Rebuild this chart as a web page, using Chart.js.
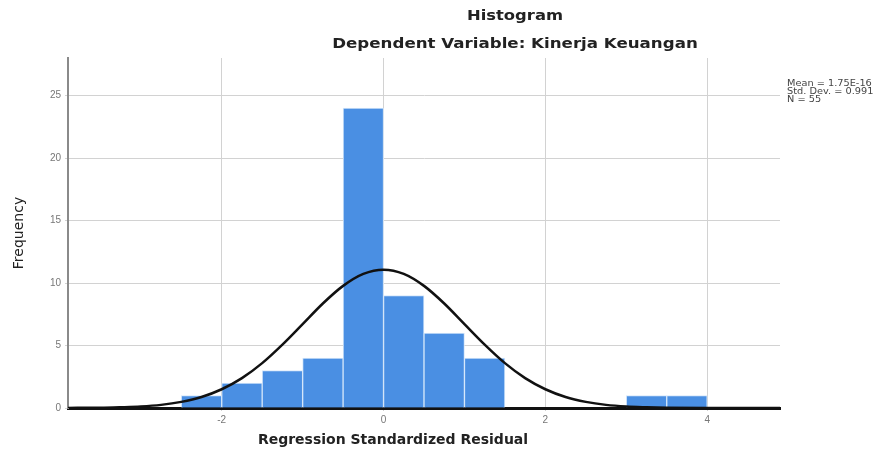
<!DOCTYPE html>
<html lang="id">
<head>
    <meta charset="UTF-8">
    <title>Histogram</title>
    <script src="https://cdn.jsdelivr.net/npm/chart.js"></script>
    <style>
        html, body { margin: 0; padding: 0; background: #fff; }
        #wrap { width: 891px; height: 455px; }
    </style>
</head>
<body>
<div id="wrap"><canvas id="grafik"></canvas></div>
<script>
    // data histogram
    const binCenters = [-2.25, -1.75, -1.25, -0.75, -0.25, 0.25, 0.75, 1.25, 3.25, 3.75];
    const frequencies = [1, 2, 3, 4, 24, 9, 6, 4, 1, 1];

    // kurva normal (titik)
    const curveX = [-3.9, -3.5, -3.25, -3, -2.75, -2.5, -2.25, -2, -1.75, -1.5, -1.25, -1, -0.75, -0.5, -0.25, 0,
                    0.25, 0.5, 0.75, 1, 1.25, 1.5, 1.75, 2, 2.25, 2.5, 2.75, 3, 3.25, 3.5, 4, 4.5, 4.9];
    const curveY = [0.01, 0.02, 0.06, 0.12, 0.25, 0.49, 0.88, 1.50, 2.39, 3.59, 5.07, 6.71, 8.36, 9.77, 10.73, 11.07,
                    10.73, 9.77, 8.36, 6.71, 5.07, 3.59, 2.39, 1.50, 0.88, 0.49, 0.25, 0.12, 0.06, 0.02, 0, 0, 0];

    const xTicks = [-2, 0, 2, 4];
    const yTicks = [0, 5, 10, 15, 20, 25];

    const judul = "Histogram";
    const subjudul = "Dependent Variable: Kinerja Keuangan";
    const judulX = "Regression Standardized Residual";
    const judulY = "Frequency";
    const statistik = ["Mean = 1.75E-16", "Std. Dev. = 0.991", "N = 55"];

    // teks ditarik sedikit melebar seperti gambar asli
    function teksLebar(c, teks, x, y, sx) {
        c.save();
        c.translate(x, y);
        c.scale(sx, 1);
        c.fillText(teks, 0, 0);
        c.restore();
    }

    // teks judul, label sumbu dan kotak statistik
    const teksPlugin = {
        id: "teks",
        afterDraw(chart) {
            const c = chart.ctx;
            c.save();
            c.fillStyle = "#222";
            c.textAlign = "center";
            c.textBaseline = "middle";
            c.font = "bold 14px 'DejaVu Sans'";
            teksLebar(c, judul, 515, 16, 1.17);
            teksLebar(c, subjudul, 515, 44, 1.19);
            c.fillText(judulX, 393, 440);

            c.font = "14px 'DejaVu Sans'";
            c.translate(19, 233);
            c.rotate(-Math.PI / 2);
            c.fillText(judulY, 0, 0);
            c.restore();

            c.save();
            c.fillStyle = "#444";
            c.font = "8px 'DejaVu Sans'";
            c.textBaseline = "top";
            statistik.forEach((t, i) => teksLebar(c, t, 787, 80 + i * 8, 1.22));
            c.restore();
        }
    };

    const ctx = document.getElementById("grafik").getContext("2d");
    new Chart(ctx, {
        data: {
            datasets: [
                {
                    type: "line",
                    data: curveX.map((x, i) => ({ x: x, y: curveY[i] })),
                    borderColor: "#111",
                    borderWidth: 2.5,
                    pointRadius: 0,
                    cubicInterpolationMode: "monotone",
                    fill: false,
                    order: 0
                },
                {
                    type: "bar",
                    data: binCenters.map((x, i) => ({ x: x, y: frequencies[i] })),
                    backgroundColor: "#4a8fe3",
                    borderColor: "#d4e6fa",
                    borderWidth: 1,
                    barPercentage: 1,
                    categoryPercentage: 1,
                    order: 1
                }
            ]
        },
        options: {
            responsive: true,
            maintainAspectRatio: false,
            animation: false,
            layout: { padding: { top: 58, right: 111, left: 0, bottom: 0 } },
            plugins: { legend: { display: false }, tooltip: { enabled: false }, title: { display: false } },
            scales: {
                x: {
                    type: "linear",
                    min: -3.9,
                    max: 4.9,
                    offset: false,
                    afterBuildTicks: (s) => { s.ticks = xTicks.map(v => ({ value: v })); },
                    afterFit: (s) => { s.height = 47; },
                    grid: { color: "#d2d2d2", lineWidth: 1, tickLength: 3, offset: false },
                    border: { color: "#111", width: 3 },
                    ticks: { color: "#777", font: { size: 10, family: "'Liberation Sans'" }, padding: 3 }
                },
                y: {
                    min: 0,
                    max: 28,
                    afterBuildTicks: (s) => { s.ticks = yTicks.map(v => ({ value: v })); },
                    afterFit: (s) => { s.width = 68; },
                    grid: { color: "#d2d2d2", lineWidth: 1, tickLength: 3 },
                    border: { color: "#8a8a8a", width: 2 },
                    ticks: { color: "#777", font: { size: 10, family: "'Liberation Sans'" }, padding: 4 }
                }
            }
        },
        plugins: [teksPlugin]
    });
</script>
</body>
</html>
